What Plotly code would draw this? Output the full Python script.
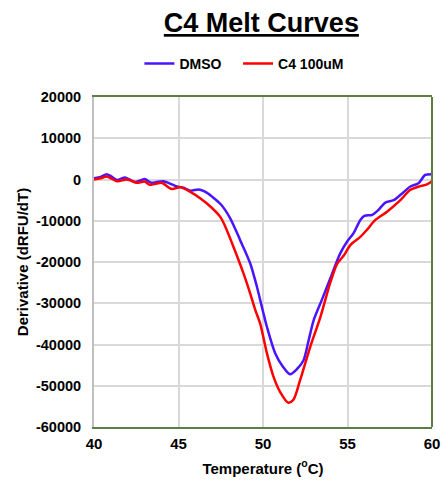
import plotly.graph_objects as go

# DMSO curve
dmso_t = [40.0, 40.4, 40.75, 41.0, 41.35, 41.84, 42.1, 42.43, 42.75, 43.0, 43.4, 43.7, 44.1,
          44.5, 44.9, 45.3, 45.7, 46.2, 46.6, 47.0, 47.5, 48.06, 48.65, 49.24, 49.64, 50.0,
          50.23, 50.72, 51.2, 51.6, 52.0, 52.4, 52.7, 53.0, 53.5, 53.98, 54.57, 54.97, 55.36,
          55.76, 56.0, 56.45, 56.8, 57.24, 57.73, 58.2, 58.72, 59.2, 59.6, 60.0]
dmso_v = [300, 600, 1300, 800, -100, 500, 0, -600, -200, 100, -800, -600, -400,
          -1000, -1700, -2000, -2700, -2400, -3000, -4200, -6000, -9400, -14700, -20300, -26000, -32000,
          -35700, -42100, -45500, -47200, -46000, -43800, -39000, -34100, -29000, -24000, -17900, -15100, -13000,
          -9800, -8800, -8600, -7500, -5600, -5000, -3500, -1700, -900, 1100, 1300]

# C4 100uM curve
c4_t = [40.0, 40.4, 40.75, 41.0, 41.35, 41.94, 42.2, 42.53, 43.0, 43.3, 43.7, 44.0, 44.6,
        45.1, 45.7, 46.3, 46.9, 47.46, 47.7, 48.25, 48.84, 49.24, 49.54, 49.83, 50.23, 50.62,
        51.0, 51.5, 51.8, 52.2, 52.8, 53.4, 53.98, 54.38, 54.77, 55.17, 55.76, 56.15, 56.65,
        57.34, 58.13, 58.72, 59.3, 59.7, 60.0]
c4_v = [0, 300, 700, 300, -400, 0, -300, -800, -500, -1300, -1000, -800, -2300,
        -1900, -3000, -4600, -6600, -9000, -10800, -16300, -22700, -27600, -31600, -34900, -42100, -47800,
        -51400, -54100, -53400, -48600, -40500, -33300, -25000, -20500, -18500, -15900, -13900, -12200, -9800,
        -7800, -5000, -2500, -1600, -1200, -400]

x_ticks = [40, 45, 50, 55, 60]
y_ticks = [20000, 10000, 0, -10000, -20000, -30000, -40000, -50000, -60000]
y_ticktext = [str(v) for v in y_ticks]

FONT = "Arial, Liberation Sans, sans-serif"
GREEN = "#5E7D44"
GRID = "#D9D9D9"

fig = go.Figure()
fig.add_trace(go.Scatter(x=dmso_t, y=dmso_v, mode="lines", name="<b>DMSO</b>\u00a0\u00a0\u00a0",
                         line=dict(color="#4A14FF", width=2.5, shape="spline", smoothing=0.8)))
fig.add_trace(go.Scatter(x=c4_t, y=c4_v, mode="lines", name="<b>C4 100uM</b>",
                         line=dict(color="#FF0000", width=2.5, shape="spline", smoothing=0.8)))

fig.update_layout(
    width=443, height=480,
    margin=dict(l=94, r=11, t=97, b=53),
    paper_bgcolor="white", plot_bgcolor="white",
    font=dict(family=FONT, color="black", size=14),
    title=dict(text="<b><u>C4 Melt Curves</u></b>", x=0.59, xanchor="center",
               y=0.953, yanchor="middle", font=dict(size=27, family=FONT, color="black")),
    legend=dict(orientation="h", x=0.445, xanchor="center", y=1.10, yanchor="middle",
                font=dict(size=14, family=FONT, color="black"), itemwidth=30,
                bgcolor="rgba(0,0,0,0)"),
    showlegend=True,
)
fig.update_xaxes(range=[40, 60], tickvals=x_ticks, ticktext=[f"<b>{v}</b>" for v in x_ticks],
                 showgrid=True, gridcolor=GRID, gridwidth=1.5,
                 showline=True, linecolor=GREEN, linewidth=2, mirror=True,
                 zeroline=False, ticks="", ticklabelstandoff=2, automargin=False,
                 tickfont=dict(size=15, family=FONT, color="black"),
                 title=dict(text="<b>Temperature (<sup>o</sup>C)</b>", font=dict(size=15, family=FONT),
                            standoff=12))
fig.update_yaxes(range=[-60000, 20000], tickvals=y_ticks, ticktext=[f"<b>{t}</b>" for t in y_ticktext],
                 showgrid=True, gridcolor=GRID, gridwidth=1.5,
                 showline=True, linecolor="#BFBFBF", linewidth=2, mirror=False,
                 zeroline=False, ticks="", ticklabelstandoff=8, automargin=False,
                 tickfont=dict(size=14.5, family=FONT, color="black"),
                 title=dict(text="<b>Derivative (dRFU/dT)</b>", font=dict(size=15, family=FONT),
                            standoff=4))
fig.add_shape(type="line", xref="paper", yref="paper", x0=1, x1=1, y0=0, y1=1,
              line=dict(color=GREEN, width=2))

fig.write_html("out.html")
